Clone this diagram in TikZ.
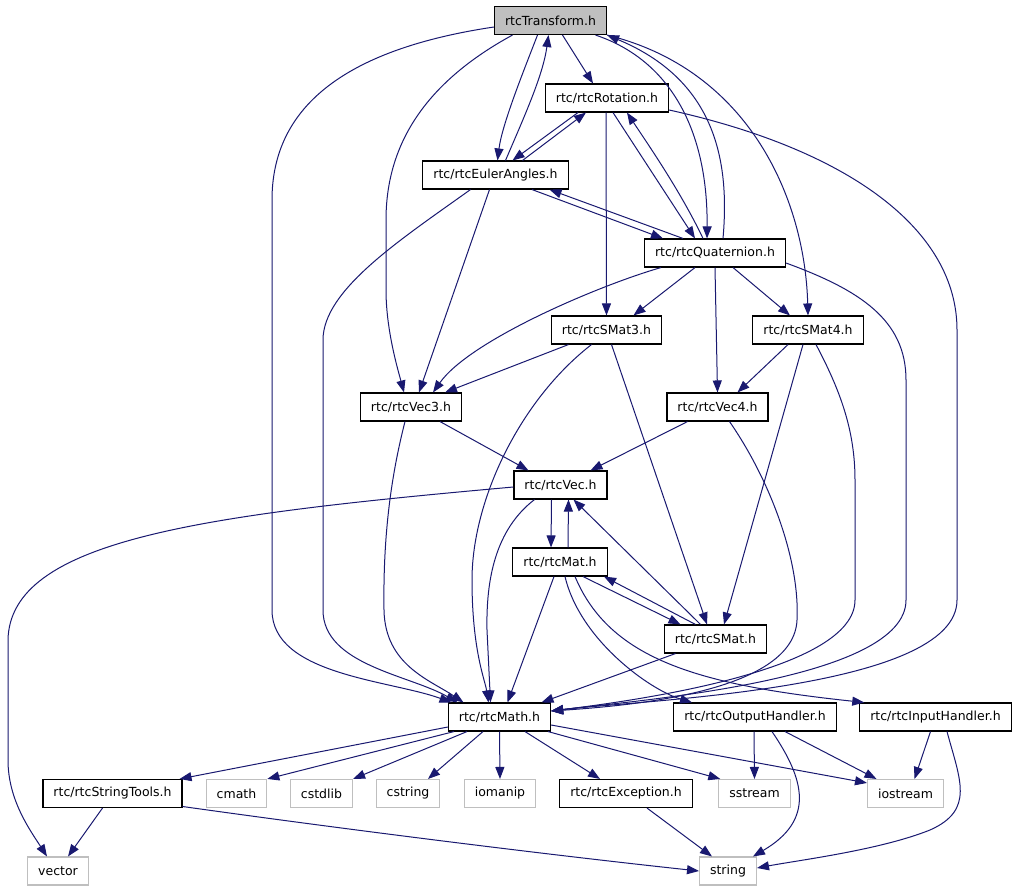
\documentclass[tikz,border=0pt]{standalone}
\usepackage{fontspec}
\setmainfont{DejaVu Sans}
\usetikzlibrary{arrows.meta}
\definecolor{edgeblue}{HTML}{191970}
\definecolor{sysgray}{HTML}{BFBFBF}
\tikzset{
	every node/.append style={
		minimum height=28pt,
	},
	header/.append style={
		draw=black,
		line width=1.1pt,
		fill=white,
		inner xsep=10.5pt,
		inner ysep=0pt,
		font={\fontsize{12.5}{14}\selectfont},
	},
	sysheader/.append style={
		header,
		draw=sysgray,
	},
	mainheader/.append style={
		header,
		fill=sysgray,
	},
	incl/.append style={
		draw=edgeblue,
		line width=1pt,
		-{Triangle[length=12pt,width=9pt]},
	},
}
\begin{document}
\begin{tikzpicture}[x=1pt,y=-1pt]
		\fill[white] (0,0) rectangle (1017,891);
		\node(transform)[mainheader] at (550.5,20.5) {rtcTransform.h};
		\node(rotation)[header] at (607,98) {rtc/rtcRotation.h};
		\node(euler)[header] at (495.5,175) {rtc/rtcEulerAngles.h};
		\node(quat)[header] at (715,253) {rtc/rtcQuaternion.h};
		\node(smat3)[header] at (606.5,330) {rtc/rtcSMat3.h};
		\node(smat4)[header] at (808,330) {rtc/rtcSMat4.h};
		\node(vec3)[header] at (411,407) {rtc/rtcVec3.h};
		\node(vec4)[header] at (717.5,407) {rtc/rtcVec4.h};
		\node(vec)[header] at (560.5,485) {rtc/rtcVec.h};
		\node(mat)[header] at (560,562) {rtc/rtcMat.h};
		\node(smat)[header] at (715.5,639) {rtc/rtcSMat.h};
		\node(math)[header] at (499.5,717) {rtc/rtcMath.h};
		\node(outh)[header] at (755,717) {rtc/rtcOutputHandler.h};
		\node(inh)[header] at (935.5,717) {rtc/rtcInputHandler.h};
		
		\node(strtools)[header] at (112.5,793.5) {rtc/rtcStringTools.h};
		\node(cmath)[sysheader] at (236.5,793.5) {cmath};
		\node(cstdlib)[sysheader] at (321.5,793.5) {cstdlib};
		\node(cstring)[sysheader] at (408,793.5) {cstring};
		\node(iomanip)[sysheader] at (500,793.5) {iomanip};
		\node(except)[header] at (626,793.5) {rtc/rtcException.h};
		\node(sstream)[sysheader] at (754.5,793.5) {sstream};
		\node(iostream)[sysheader] at (905.5,793.5) {iostream};
		\node(vector)[sysheader] at (58,871) {vector};
		\node(string)[sysheader] at (728,871) {string};
		
		% rtcTransform.h
		\draw[incl] ([yshift=-6.5pt]transform.west) .. controls (340,50) and (272,110) .. (272,200) -- (272,610) .. controls (272,675) and (390,680) .. ([xshift=-48pt]math.north);
		\draw[incl] ([xshift=-38pt]transform.south) .. controls (430,80) and (386,140) .. (386,220) -- (386,290) .. controls (386,330) and (398,370) .. ([xshift=-7pt]vec3.north);
		\draw[incl] ([xshift=-13pt]transform.south) .. controls (522,75) and (502,125) .. ([xshift=2pt]euler.north);
		\draw[incl] ([xshift=10pt]euler.north) .. controls (525,115) and (543,75) .. ([xshift=-2pt]transform.south);
		\draw[incl] ([xshift=12pt]transform.south) -- ([xshift=-14pt]rotation.north);
		\draw[incl] ([xshift=45pt]transform.south) .. controls (670,60) and (708,130) .. ([xshift=-8pt]quat.north);
		\draw[incl] ([xshift=8pt]quat.north) .. controls (730,160) and (715,80) .. (transform.south east);
		\draw[incl] (transform.south east) .. controls (750,70) and (805,200) .. (smat4.north);
		
		% rtcRotation.h
		\draw[incl] ([xshift=-29pt]rotation.south) -- ([xshift=17pt]euler.north);
		\draw[incl] ([xshift=27pt]euler.north) -- ([xshift=-21pt]rotation.south);
		\draw[incl] ([xshift=6pt]rotation.south) -- ([xshift=-20pt]quat.north);
		\draw[incl] ([xshift=-12pt]quat.north) .. controls (680,190) and (645,140) .. ([xshift=20pt]rotation.south);
		\draw[incl] ([xshift=-1pt]rotation.south) -- (smat3.north);
		\draw[incl] ([yshift=-12pt]rotation.east) .. controls (850,150) and (957,230) .. (957,330) -- (957,600) .. controls (957,690) and (640,700) .. ([yshift=6pt]math.east);
		
		% rtcEulerAngles.h
		\draw[incl] ([xshift=36.5pt]euler.south) -- ([xshift=-52pt]quat.north);
		\draw[incl] ([xshift=-32pt]quat.north) -- ([xshift=54pt]euler.south);
		\draw[incl] ([xshift=-6pt]euler.south) -- ([xshift=8pt]vec3.north);
		\draw[incl] ([xshift=-25pt]euler.south) .. controls (400,240) and (323,290) .. (323,340) -- (323,610) .. controls (323,665) and (410,675) .. ([xshift=-42pt]math.north);
		
		% rtcQuaternion.h
		\draw[incl] ([xshift=-54pt]quat.south) .. controls (600,285) and (470,340) .. ([xshift=22pt]vec3.north);
		\draw[incl] ([xshift=-20pt]quat.south) -- ([xshift=27pt]smat3.north);
		\draw[incl] (quat.south) -- (vec4.north);
		\draw[incl] ([xshift=18pt]quat.south) -- ([xshift=-18pt]smat4.north);
		\draw[incl] ([yshift=-10pt]quat.east) .. controls (860,290) and (906,320) .. (906,380) -- (906,600) .. controls (906,680) and (640,700) .. ([yshift=6pt]math.east);
		
		% rtcSMat3.h, rtcSMat4.h
		\draw[incl] ([xshift=-38pt]smat3.south) -- ([xshift=34pt]vec3.north);
		\draw[incl] ([xshift=-15pt]smat3.south) .. controls (520,400) and (472,500) .. (472,580) .. controls (472,650) and (485,680) .. ([xshift=-11pt]math.north);
		\draw[incl] ([xshift=5pt]smat3.south) -- ([xshift=-8.5pt]smat.north);
		\draw[incl] ([xshift=-20pt]smat4.south) -- ([xshift=20pt]vec4.north);
		\draw[incl] ([xshift=-5pt]smat4.south) -- ([xshift=8.5pt]smat.north);
		\draw[incl] ([xshift=8pt]smat4.south) .. controls (840,390) and (855,430) .. (855,480) -- (855,600) .. controls (855,670) and (640,700) .. ([yshift=6pt]math.east);
		
		% rtcVec3.h, rtcVec4.h
		\draw[incl] ([xshift=29pt]vec3.south) -- ([xshift=-32pt]vec.north);
		\draw[incl] ([xshift=-6pt]vec3.south) .. controls (390,480) and (383,540) .. (384,610) .. controls (385,665) and (430,680) .. ([xshift=-36pt]math.north);
		\draw[incl] ([xshift=-30pt]vec4.south) -- ([xshift=30pt]vec.north);
		\draw[incl] ([xshift=12pt]vec4.south) .. controls (770,480) and (800,560) .. (797,620) .. controls (794,690) and (640,705) .. ([yshift=6pt]math.east);
		
		% rtcVec.h
		\draw[incl] ([yshift=-2pt]vec.west) .. controls (200,515) and (10,540) .. (8,640) -- (8,760) .. controls (8,800) and (30,830) .. ([xshift=-11pt]vector.north);
		\draw[incl] ([xshift=-9pt]vec.south) -- ([xshift=-9pt]mat.north);
		\draw[incl] ([xshift=8pt]mat.north) -- ([xshift=8pt]vec.south);
		\draw[incl] ([xshift=-26pt]vec.south) .. controls (495,530) and (486,580) .. (487,630) -- ([xshift=-9pt]math.north);
		\draw[incl] ([xshift=-15pt]smat.north) -- ([xshift=13pt]vec.south);
		
		% rtcMat.h, rtcSMat.h
		\draw[incl] ([xshift=23pt]mat.south) -- ([xshift=-35pt]smat.north);
		\draw[incl] ([xshift=-20pt]smat.north) -- ([xshift=44pt]mat.south);
		\draw[incl] ([xshift=-6pt]mat.south) -- ([xshift=8pt]math.north);
		\draw[incl] ([xshift=5pt]mat.south) .. controls (580,640) and (650,690) .. ([xshift=-63pt]outh.north);
		\draw[incl] ([xshift=15pt]mat.south) .. controls (610,660) and (700,685) .. ([xshift=5pt]inh.north west);
		\draw[incl] ([xshift=-40pt]smat.south) -- ([xshift=42pt]math.north);
		
		% rtcMath.h
		\draw[incl] ([yshift=-10pt]math.west) -- ([xshift=-3pt]strtools.north east);
		\draw[incl] ([xshift=-45.5pt]math.south) -- (cmath.north east);
		\draw[incl] ([xshift=-32.5pt]math.south) -- (cstdlib.north east);
		\draw[incl] ([xshift=-16.5pt]math.south) -- ([xshift=20pt]cstring.north);
		\draw[incl] (math.south) -- (iomanip.north);
		\draw[incl] ([xshift=25.5pt]math.south) -- ([xshift=-26pt]except.north);
		\draw[incl] ([xshift=48.5pt]math.south) -- ([xshift=2pt]sstream.north west);
		\draw[incl] ([yshift=-8pt]math.east) -- ([yshift=-4pt]iostream.north west);
		
		% handlers, tools
		\draw[incl] ([xshift=-1pt]outh.south) -- (sstream.north);
		\draw[incl] ([xshift=17pt]outh.south) .. controls (805,780) and (815,820) .. ([xshift=-4pt]string.north east);
		\draw[incl] ([xshift=30pt]outh.south) -- ([xshift=-29pt]iostream.north);
		\draw[incl] ([xshift=-5pt]inh.south) -- ([xshift=9pt]iostream.north);
		\draw[incl] ([xshift=11.5pt]inh.south) .. controls (960,780) and (975,810) .. (930,830) .. controls (880,850) and (800,860) .. ([yshift=3pt]string.east);
		\draw[incl] ([xshift=-10pt]strtools.south) -- ([xshift=10pt]vector.north);
		\draw[incl] ([yshift=-13pt]strtools.east) .. controls (350,830) and (550,855) .. (string.west);
		\draw[incl] ([xshift=21pt]except.south) -- ([xshift=-16pt]string.north);
		\end{tikzpicture}
\end{document}
